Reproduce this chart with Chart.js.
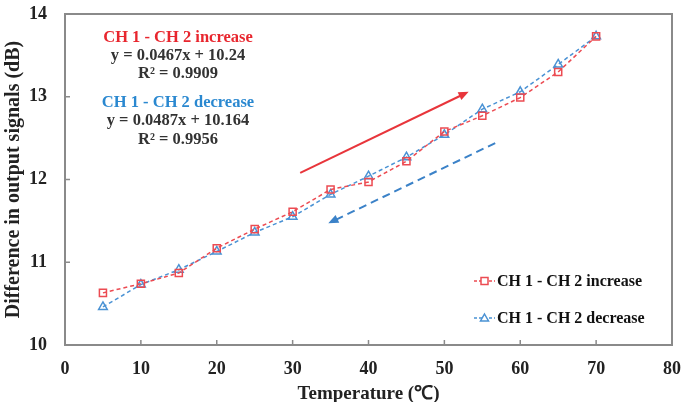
<!DOCTYPE html>
<html>
<head>
<meta charset="utf-8">
<script src="https://cdn.jsdelivr.net/npm/chart.js@4"></script>
<style>
  html, body { margin: 0; padding: 0; background: #fff; }
  #wrap { width: 689px; height: 402px; }
</style>
</head>
<body>
<div id="wrap"><canvas id="myChart" width="689" height="402"></canvas></div>
<script>
// data
const temperatures = [5, 10, 15, 20, 25, 30, 35, 40, 45, 50, 55, 60, 65, 70];
const increaseValues = [10.63, 10.74, 10.87, 11.17, 11.40, 11.61, 11.88, 11.97, 12.22, 12.58, 12.77, 12.99, 13.30, 13.73];
const decreaseValues = [10.46, 10.73, 10.91, 11.13, 11.36, 11.55, 11.82, 12.04, 12.27, 12.54, 12.85, 13.06, 13.39, 13.73];
const seriesNames = ['CH 1 - CH 2 increase', 'CH 1 - CH 2 decrease'];
const xTicks = [0, 10, 20, 30, 40, 50, 60, 70, 80];
const yTicks = [10, 11, 12, 13, 14];

// arrows in data space: [x0, y0, x1, y1]
const upArrow = [31.0, 12.08, 53.2, 13.06];
const downArrow = [56.7, 12.44, 34.7, 11.47];

const red = '#ec4b52';
const blue = '#4a92d4';
const font = '"Liberation Serif", "Times New Roman", serif';

// frame, inward ticks, arrows, fit texts and legend
const extras = {
  id: 'extras',
  afterDatasetsDraw(chart) {
    const ctx = chart.ctx;
    const a = chart.chartArea;
    const xs = chart.scales.x, ys = chart.scales.y;
    ctx.save();

    ctx.strokeStyle = '#8a8a8a';
    ctx.lineWidth = 2;
    ctx.strokeRect(a.left, a.top, a.right - a.left, a.bottom - a.top);
    ctx.lineWidth = 1.5;
    xTicks.forEach(v => {
      const px = xs.getPixelForValue(v);
      ctx.beginPath(); ctx.moveTo(px, a.bottom); ctx.lineTo(px, a.bottom - 5); ctx.stroke();
    });
    yTicks.forEach(v => {
      const py = ys.getPixelForValue(v);
      ctx.beginPath(); ctx.moveTo(a.left, py); ctx.lineTo(a.left + 5, py); ctx.stroke();
    });

    function arrow(p, color, dash) {
      const x0 = xs.getPixelForValue(p[0]), y0 = ys.getPixelForValue(p[1]);
      const x1 = xs.getPixelForValue(p[2]), y1 = ys.getPixelForValue(p[3]);
      const ang = Math.atan2(y1 - y0, x1 - x0);
      ctx.strokeStyle = color; ctx.fillStyle = color;
      ctx.lineWidth = 2;
      ctx.setLineDash(dash);
      ctx.beginPath();
      ctx.moveTo(x0, y0);
      ctx.lineTo(x1 - 8 * Math.cos(ang), y1 - 8 * Math.sin(ang));
      ctx.stroke();
      ctx.setLineDash([]);
      ctx.beginPath();
      ctx.moveTo(x1, y1);
      ctx.lineTo(x1 - 11 * Math.cos(ang - 0.4), y1 - 11 * Math.sin(ang - 0.4));
      ctx.lineTo(x1 - 11 * Math.cos(ang + 0.4), y1 - 11 * Math.sin(ang + 0.4));
      ctx.closePath();
      ctx.fill();
    }
    arrow(upArrow, '#e8353b', []);
    arrow(downArrow, '#3b82c8', [8, 5]);

    // regression texts
    ctx.textAlign = 'center';
    ctx.textBaseline = 'middle';
    const cx = 178;
    ctx.font = 'bold 16.5px ' + font;
    ctx.fillStyle = '#e8262e'; ctx.fillText(seriesNames[0], cx, 38);
    ctx.fillStyle = '#333'; ctx.fillText('y = 0.0467x + 10.24', cx, 56);
    ctx.fillText('R² = 0.9909', cx, 74);
    ctx.fillStyle = '#2a88d0'; ctx.fillText(seriesNames[1], cx, 103);
    ctx.fillStyle = '#333'; ctx.fillText('y = 0.0487x + 10.164', cx, 121);
    ctx.fillText('R² = 0.9956', cx, 140);

    // legend inside the plot
    const rows = [
      {y: 281, color: red, shape: 'rect', label: seriesNames[0]},
      {y: 318, color: blue, shape: 'triangle', label: seriesNames[1]}
    ];
    rows.forEach(r => {
      ctx.strokeStyle = r.color;
      ctx.lineWidth = 1.5;
      ctx.setLineDash([3, 2]);
      ctx.beginPath(); ctx.moveTo(474, r.y); ctx.lineTo(495, r.y); ctx.stroke();
      ctx.setLineDash([]);
      ctx.fillStyle = '#fff';
      if (r.shape === 'rect') {
        ctx.fillRect(481, r.y - 3.5, 7, 7);
        ctx.strokeRect(481, r.y - 3.5, 7, 7);
      } else {
        ctx.beginPath();
        ctx.moveTo(484.5, r.y - 4); ctx.lineTo(488.5, r.y + 3); ctx.lineTo(480.5, r.y + 3); ctx.closePath();
        ctx.fill(); ctx.stroke();
      }
      ctx.fillStyle = '#111';
      ctx.textAlign = 'left';
      ctx.font = 'bold 16px ' + font;
      ctx.fillText(r.label, 497, r.y + 1);
    });
    ctx.restore();
  }
};

const myChart = document.getElementById('myChart');
new Chart(myChart, {
  type: 'line',
  data: {
    labels: temperatures,
    datasets: [{
      label: seriesNames[0],
      data: temperatures.map((t, i) => ({x: t, y: increaseValues[i]})),
      borderColor: red,
      backgroundColor: '#fff',
      borderWidth: 1.5,
      borderDash: [4, 3],
      pointStyle: 'rect',
      pointRadius: 5,
      pointBorderWidth: 1.5,
      pointBorderColor: red,
      pointBackgroundColor: 'rgba(255,255,255,0)',
      order: 0
    }, {
      label: seriesNames[1],
      data: temperatures.map((t, i) => ({x: t, y: decreaseValues[i]})),
      borderColor: blue,
      backgroundColor: '#fff',
      borderWidth: 1.5,
      borderDash: [4, 3],
      pointStyle: 'triangle',
      pointRadius: 5,
      pointBorderWidth: 1.5,
      pointBorderColor: blue,
      pointBackgroundColor: 'rgba(255,255,255,0)',
      order: 1
    }]
  },
  options: {
    responsive: false,
    animation: false,
    layout: {padding: {top: 14, right: 17, left: 0, bottom: 0}},
    plugins: {legend: {display: false}, tooltip: {enabled: false}},
    scales: {
      x: {
        type: 'linear',
        min: 0, max: 80,
        afterFit: s => { s.height = 57; s.paddingLeft = 0; s.paddingRight = 0; },
        afterBuildTicks: s => { s.ticks = xTicks.map(v => ({value: v})); },
        grid: {display: false, drawTicks: false},
        border: {display: false},
        ticks: {padding: 14, color: '#222', font: {family: font, size: 18, weight: 'bold'}, maxRotation: 0},
        title: {display: true, text: 'Temperature (℃)', color: '#222', padding: {top: 0, bottom: -3},
          font: {family: font, size: 19, weight: 'bold'}}
      },
      y: {
        min: 10, max: 14,
        afterFit: s => { s.width = 65; s.paddingTop = 0; s.paddingBottom = 0; },
        afterBuildTicks: s => { s.ticks = yTicks.map(v => ({value: v})); },
        grid: {display: false, drawTicks: false},
        border: {display: false},
        ticks: {padding: 18, color: '#222', font: {family: font, size: 18, weight: 'bold'}},
        title: {display: true, text: 'Difference in output signals (dB)', color: '#222', padding: {top: 2, bottom: 0},
          font: {family: font, size: 20, weight: 'bold'}}
      }
    }
  },
  plugins: [extras]
});
</script>
</body>
</html>
